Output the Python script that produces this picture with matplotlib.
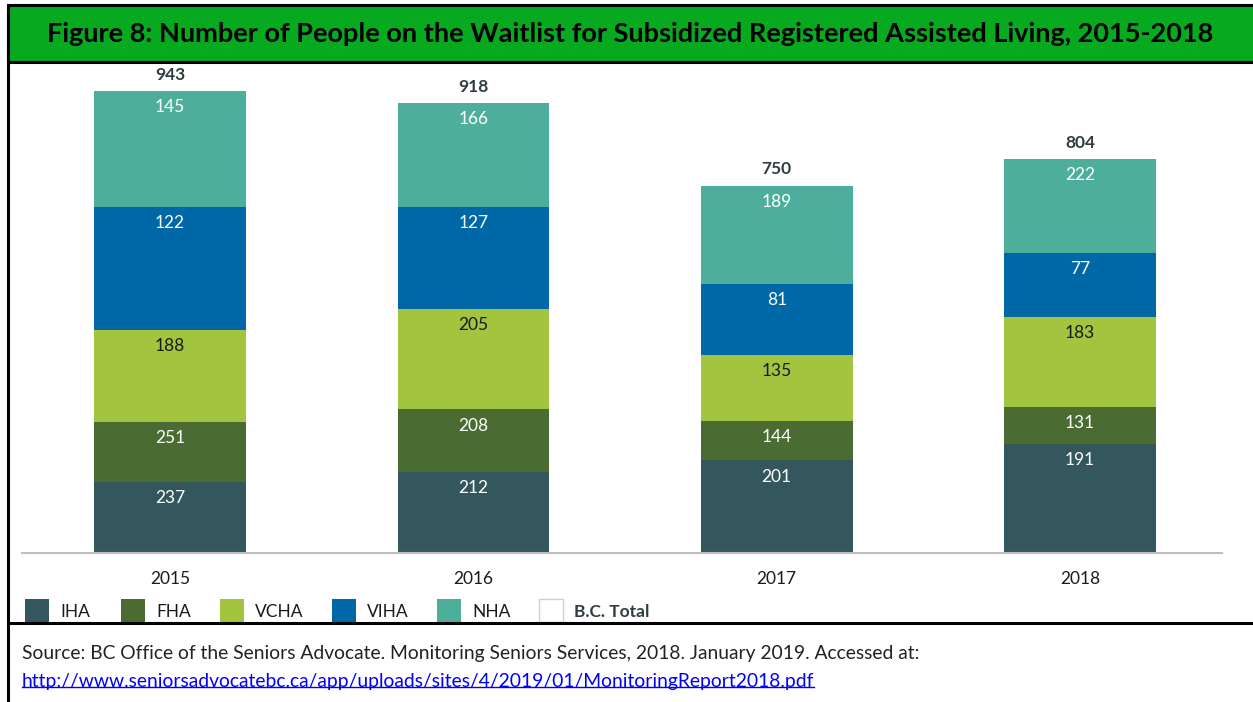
import matplotlib
matplotlib.use("Agg")
import matplotlib.pyplot as plt
from matplotlib.patches import Rectangle
from matplotlib.lines import Line2D

plt.rcParams['font.family'] = ['Lato', 'DejaVu Sans']

years = ['2015', '2016', '2017', '2018']
regions = ['IHA', 'FHA', 'VCHA', 'VIHA', 'NHA']
iha = [237, 212, 201, 191]
fha = [251, 208, 144, 131]
vcha = [188, 205, 135, 183]
viha = [122, 127, 81, 77]
nha = [145, 166, 189, 222]
totals = [943, 918, 750, 804]

colors = ['#33575C', '#4A6B31', '#A2C43F', '#0068A6', '#4DAF9B']
label_colors = ['white', 'white', '#1a1a1a', 'white', 'white']

labels = [iha, fha, vcha, viha, nha]
# the original chart stacks the values in reverse order of the labels,
# so the segment heights come from the reversed list
heights = labels[::-1]

W, H = 1253, 702
fig = plt.figure(figsize=(W / 100, H / 100), dpi=100)

def fx(px):
    return px / W

def fy(py):
    return 1 - py / H

ax = fig.add_axes([fx(22), fy(553), fx(1222) - fx(22), fy(65) - fy(553)])
x = range(len(years))
bottom = [0] * len(years)
for i in range(len(regions)):
    h = heights[i]
    ax.bar(x, h, bottom=bottom, width=0.5, color=colors[i], linewidth=0, zorder=2)
    for j in x:
        top = bottom[j] + h[j]
        ax.text(j, top - 33, str(labels[i][j]), ha='center', va='center',
                color=label_colors[i], fontsize=12.5)
    bottom = [b + v for b, v in zip(bottom, h)]

for j in x:
    ax.text(j, bottom[j] + 33, str(totals[j]), ha='center', va='center',
            color='#2E3E40', fontsize=12.5, fontweight='bold')

ax.set_xlim(-0.488, 3.468)
ax.set_ylim(0, 996)
ax.set_yticks([])
ax.set_xticks(list(x))
ax.set_xticklabels(years, fontsize=12.5, color='#1a1a1a')
ax.tick_params(axis='x', length=0, pad=13)
for s in ['top', 'left', 'right']:
    ax.spines[s].set_visible(False)
ax.spines['bottom'].set_color('#BFBFBF')
ax.spines['bottom'].set_linewidth(1.5)

# title band
fig.add_artist(Rectangle((fx(8), fy(62)), 1.1, fy(5) - fy(62), transform=fig.transFigure,
                         facecolor='#07A91F', edgecolor='black', linewidth=2.2))
fig.text(fx(630), fy(34), 'Figure 8: Number of People on the Waitlist for Subsidized Registered Assisted Living, 2015-2018',
         ha='center', va='center', fontsize=19.5, fontweight='bold', color='black')

# frame lines
fig.add_artist(Line2D([fx(8), fx(8)], [0, fy(5)], color='black', linewidth=2.2))
fig.add_artist(Line2D([fx(8), 1], [fy(623), fy(623)], color='black', linewidth=2.2))

# legend
leg_x = [25, 121, 220, 332, 437]
for i, name in enumerate(regions):
    fig.add_artist(Rectangle((fx(leg_x[i]), fy(622)), fx(24), fy(599) - fy(622),
                             transform=fig.transFigure, facecolor=colors[i], linewidth=0))
    fig.text(fx(leg_x[i] + 35), fy(612), name, ha='left', va='center', fontsize=12.5, color='#1a1a1a')
fig.add_artist(Rectangle((fx(539), fy(622)), fx(24), fy(599) - fy(622),
                         transform=fig.transFigure, facecolor='white', edgecolor='#D0D0D0', linewidth=1))
fig.text(fx(574), fy(612), 'B.C. Total', ha='left', va='center', fontsize=12.5,
         fontweight='bold', color='#2E3E40')

# source
fig.text(fx(22), fy(654), 'Source: BC Office of the Seniors Advocate. Monitoring Seniors Services, 2018. January 2019. Accessed at:',
         ha='left', va='center', fontsize=13.9, color='#222222')
url = fig.text(fx(22), fy(681), 'http://www.seniorsadvocatebc.ca/app/uploads/sites/4/2019/01/MonitoringReport2018.pdf',
               ha='left', va='center', fontsize=13.9, color='#0000FF')
fig.canvas.draw()
bb = url.get_window_extent()
fig.add_artist(Line2D([bb.x0 / W, bb.x1 / W], [bb.y0 / H + 0.004, bb.y0 / H + 0.004],
                      color='#0000FF', linewidth=1))

fig.savefig('out.png', dpi=100)
